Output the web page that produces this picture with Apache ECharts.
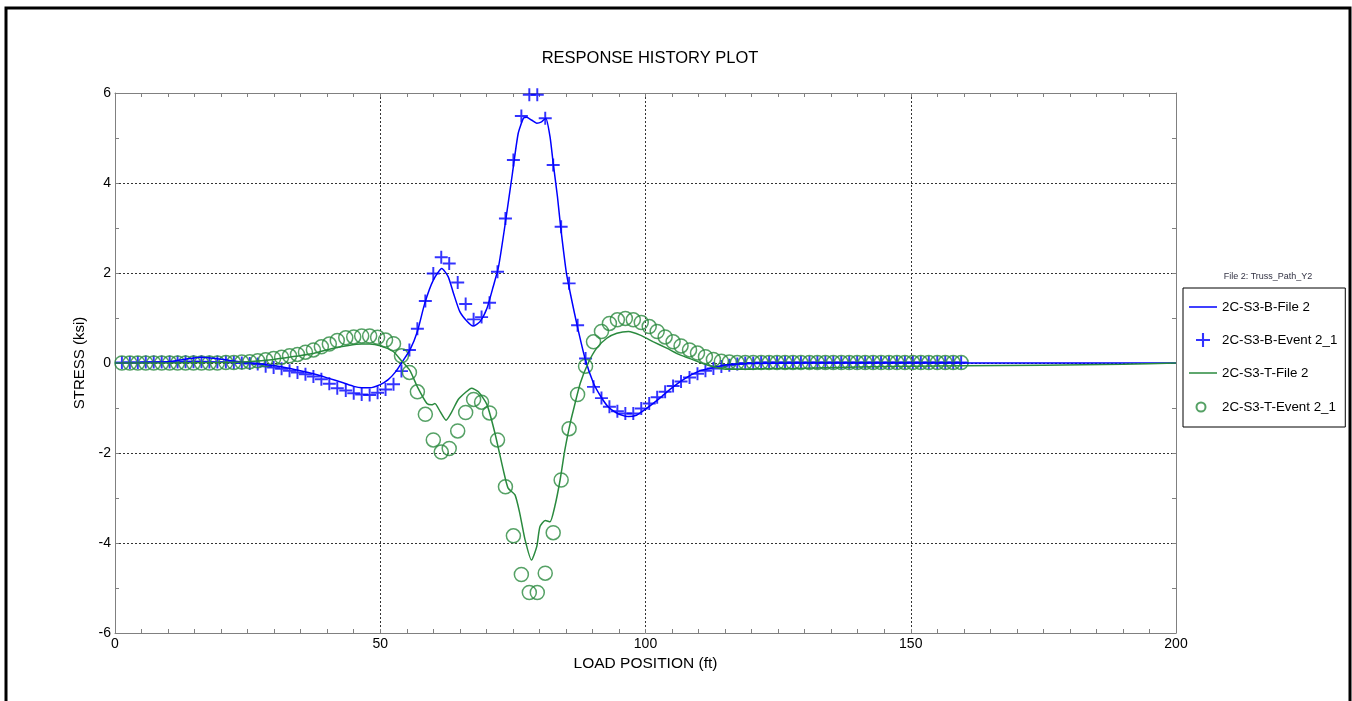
<!DOCTYPE html>
<html>
<head>
<meta charset="utf-8">
<script type="text/javascript" src="https://cdn.jsdelivr.net/npm/echarts@6/dist/echarts.min.js"></script>
<style>
    html, body { margin: 0; padding: 0; background: #fff; }
    #plot { width: 1352px; height: 701px; }
</style>
</head>
<body>
<div id="plot"></div>
<script>
    // load positions of the event readings (ft)
    var eventPos = [1.3, 2.8, 4.3, 5.8, 7.3, 8.8, 10.3, 11.8, 13.3, 14.8, 16.3, 17.8, 19.3, 20.9, 22.4, 23.9, 25.4, 26.9,
        28.4, 29.9, 31.4, 32.9, 34.4, 35.9, 37.4, 38.9, 40.4, 41.9, 43.5, 45.0, 46.5, 48.0, 49.5, 51.0, 52.5, 54.0,
        55.5, 57.0, 58.5, 60.0, 61.5, 63.0, 64.6, 66.1, 67.6, 69.1, 70.6, 72.1, 73.6, 75.1, 76.6, 78.1, 79.6, 81.1,
        82.6, 84.1, 85.6, 87.2, 88.7, 90.2, 91.7, 93.2, 94.7, 96.2, 97.7, 99.2, 100.7, 102.2, 103.7, 105.2, 106.7, 108.3,
        109.8, 111.3, 112.8, 114.3, 115.8, 117.3, 118.8, 120.3, 121.8, 123.3, 124.8, 126.3, 127.8, 129.3, 130.9, 132.4,
        133.9, 135.4, 136.9, 138.4, 139.9, 141.4, 142.9, 144.4, 145.9, 147.4, 148.9, 150.4, 151.9, 153.4, 155.0, 156.5,
        158.0, 159.5];
    // 2C-S3-B-Event 2_1 (ksi)
    var bEvent = [0.01, 0.01, 0.01, 0.02, 0.02, 0.02, 0.02, 0.02, 0.03, 0.03, 0.03, 0.02, 0.02, 0.02, 0.01, 0.0, -0.01, -0.02,
        -0.07, -0.10, -0.13, -0.17, -0.21, -0.25, -0.30, -0.36, -0.46, -0.56, -0.61, -0.67, -0.70, -0.71, -0.66, -0.59, -0.47, -0.18,
        0.29, 0.76, 1.38, 1.99, 2.35, 2.21, 1.79, 1.31, 0.97, 1.02, 1.34, 2.03, 3.21, 4.51, 5.49, 5.96, 5.96, 5.44,
        4.40, 3.03, 1.77, 0.84, 0.10, -0.53, -0.78, -0.97, -1.07, -1.12, -1.12, -1.01, -0.90, -0.76, -0.64, -0.51, -0.41, -0.32,
        -0.24, -0.17, -0.12, -0.08, -0.05, -0.02, 0.0, 0.0, 0.01, 0.01, 0.01, 0.01, 0.01, 0.01, 0.01, 0.01,
        0.01, 0.01, 0.01, 0.01, 0.01, 0.01, 0.01, 0.01, 0.01, 0.01, 0.01, 0.01, 0.01, 0.01, 0.01, 0.01,
        0.01, 0.01];
    // 2C-S3-T-Event 2_1 (ksi)
    var tEvent = [0.0, 0.0, 0.0, 0.0, 0.0, 0.0, 0.0, 0.0, 0.0, 0.0, 0.0, 0.0, 0.0, 0.01, 0.01, 0.02, 0.03, 0.05,
        0.07, 0.10, 0.13, 0.16, 0.19, 0.24, 0.29, 0.36, 0.42, 0.50, 0.56, 0.58, 0.60, 0.60, 0.57, 0.51, 0.43, 0.16,
        -0.21, -0.64, -1.14, -1.71, -1.98, -1.90, -1.51, -1.10, -0.81, -0.87, -1.11, -1.71, -2.75, -3.84, -4.70, -5.10, -5.10, -4.67,
        -3.77, -2.60, -1.46, -0.70, -0.07, 0.47, 0.70, 0.88, 0.96, 0.99, 0.96, 0.90, 0.81, 0.70, 0.58, 0.47, 0.38, 0.29,
        0.22, 0.14, 0.08, 0.04, 0.02, 0.01, 0.01, 0.01, 0.01, 0.01, 0.01, 0.01, 0.01, 0.01, 0.01, 0.01,
        0.01, 0.01, 0.01, 0.01, 0.01, 0.01, 0.01, 0.01, 0.01, 0.01, 0.01, 0.01, 0.01, 0.01, 0.01, 0.01,
        0.01, 0.01];

    // 2C-S3-B-File 2
    var bFileX = [0, 5, 10, 13, 16, 19, 22, 25, 28, 31, 34, 37, 40, 43, 45, 46.5, 48, 50, 51.5, 53,
        54, 55.6, 57, 58.4, 60, 61.6, 62.8, 63.8, 65, 66.4, 67.5, 68.8, 70.1, 71.3, 72.3, 73.5, 74.9, 76, 77, 77.6,
        78.5, 79.5, 80.4, 81.2, 82, 82.6, 83.4, 84, 85.1, 86, 87.1, 88.6, 90.2, 91.6, 93, 94.4, 95.8, 96.8, 98.3, 100.2,
        102.7, 105.2, 107.8, 110.3, 112.8, 115.3, 117.8, 120, 130, 150, 170, 200];
    var bFileY = [0, 0.01, 0.03, 0.08, 0.13, 0.10, 0.05, 0.01, -0.03, -0.08, -0.15, -0.23, -0.33, -0.44, -0.52, -0.55, -0.55, -0.48, -0.37, -0.18,
        0.0, 0.29, 0.70, 1.33, 1.84, 2.10, 1.92, 1.55, 1.14, 0.92, 0.82, 0.92, 1.21, 1.70, 2.14, 3.05, 4.20, 5.10, 5.44, 5.46,
        5.40, 5.33, 5.36, 5.44, 5.03, 4.44, 3.70, 3.03, 1.99, 1.45, 0.84, 0.10, -0.45, -0.75, -0.98, -1.10, -1.17, -1.19, -1.16, -1.01,
        -0.78, -0.53, -0.32, -0.17, -0.10, -0.04, -0.02, -0.01, 0.0, 0.0, 0.0, 0.0];
    // 2C-S3-T-File 2
    var tFileX = [0, 10, 20, 25, 30, 34, 37.4, 41.2, 44, 46.5, 48, 50, 52.5, 54, 55.6, 57, 58.8, 59.7, 60.3, 61.3,
        62.4, 63.5, 64.7, 66, 67.2, 68.5, 70.1, 71.6, 73.2, 74.1, 75.4, 76.3, 77.3, 78.5, 79.5, 80.1, 81.1, 82, 82.9, 83.9,
        84.8, 85.8, 86.4, 87.7, 89.2, 90.8, 92.7, 94.6, 96.8, 99, 101.5, 104, 106.5, 109, 111.5, 114, 116.5, 119, 121.6, 128,
        140, 150, 160, 175, 190, 200];
    var tFileY = [0, 0, 0.01, 0.03, 0.08, 0.15, 0.21, 0.33, 0.39, 0.42, 0.42, 0.38, 0.25, 0.05, -0.17, -0.53, -0.90, -0.93, -0.90, -1.08,
        -1.27, -1.08, -0.81, -0.66, -0.56, -0.64, -0.92, -1.55, -2.38, -2.78, -2.93, -3.34, -3.93, -4.38, -4.08, -3.64, -3.50, -3.53, -3.19, -2.60,
        -1.93, -1.34, -1.05, -0.45, 0.0, 0.33, 0.55, 0.66, 0.70, 0.62, 0.47, 0.33, 0.18, 0.07, -0.04, -0.12, -0.14, -0.14, -0.13, -0.12,
        -0.09, -0.07, -0.06, -0.05, -0.03, 0.0];

    var xTicks = [0, 50, 100, 150, 200];
    var yTicks = [-6, -4, -2, 0, 2, 4, 6];

    function pairs(xs, ys) {
        var out = [];
        for (var i = 0; i < xs.length; i++) {
            out.push([xs[i], ys[i]]);
        }
        return out;
    }

    var blue = '#0000ff';
    var green = '#2a8a3e';
    var font = 'Arial, "Liberation Sans", sans-serif';
    var plusPath = 'path://M4.25,0h1.5v4.25h4.25v1.5h-4.25v4.25h-1.5v-4.25h-4.25v-1.5h4.25z';
    // legend icons, padded out to the 28x14 icon box with bare moveTo points
    var lineIcon = 'path://M0,0M28,14M0,6.25h28v1.5h-28z';
    var ringIcon = 'path://M0,0M28,14M16.5,7A4.5,4.5,0,1,1,7.5,7A4.5,4.5,0,1,1,16.5,7z';

    var tickGray = '#808080';
    function xAxisBase(pos) {
        return {
            type: 'value',
            position: pos,
            min: xTicks[0],
            max: xTicks[xTicks.length - 1],
            interval: 50,
            axisLine: { show: true, onZero: false, lineStyle: { color: tickGray, width: 1 } },
            axisTick: { show: true, inside: true, length: 4, lineStyle: { color: tickGray } },
            minorTick: { show: true, splitNumber: 10, length: 4, lineStyle: { color: tickGray } }
        };
    }
    function yAxisBase(pos) {
        return {
            type: 'value',
            position: pos,
            min: yTicks[0],
            max: yTicks[yTicks.length - 1],
            interval: 2,
            axisLine: { show: true, onZero: false, lineStyle: { color: tickGray, width: 1 } },
            axisTick: { show: true, inside: true, length: 4, lineStyle: { color: tickGray } },
            minorTick: { show: true, splitNumber: 2, length: 4, lineStyle: { color: tickGray } }
        };
    }

    var gridLine = { show: true, lineStyle: { color: '#333', type: [2, 2], width: 1 } };

    var myChart = echarts.init(document.getElementById('plot'));
    var option = {
        backgroundColor: '#fff',
        animation: false,
        title: [{
            text: 'RESPONSE HISTORY PLOT',
            left: 645,
            top: 45,
            textAlign: 'center',
            textStyle: { fontFamily: font, fontSize: 16.5, fontWeight: 'normal', color: '#000' }
        }, {
            text: 'File 2: Truss_Path_Y2',
            left: 1263,
            top: 267,
            textAlign: 'center',
            textStyle: { fontFamily: font, fontSize: 9, fontWeight: 'normal', color: '#333344' }
        }],
        graphic: [{
            type: 'rect',
            shape: { x: 6, y: 8, width: 1344, height: 720 },
            style: { fill: null, stroke: '#000', lineWidth: 3 },
            silent: true
        }],
        legend: {
            orient: 'vertical',
            left: 1183,
            top: 288,
            padding: [12, 8, 12, 5],
            itemGap: 19,
            itemWidth: 28,
            itemHeight: 14,
            borderColor: '#000',
            borderWidth: 1,
            textStyle: { fontFamily: font, fontSize: 13.3, color: '#000' },
            data: [
                { name: '2C-S3-B-File 2', icon: lineIcon },
                { name: '2C-S3-B-Event 2_1' },
                { name: '2C-S3-T-File 2', icon: lineIcon },
                { name: '2C-S3-T-Event 2_1', icon: ringIcon }
            ]
        },
        grid: { left: 115, top: 93, right: 176, bottom: 68 },
        xAxis: [Object.assign(xAxisBase('bottom'), {
            name: 'LOAD POSITION (ft)',
            nameLocation: 'middle',
            nameGap: 17,
            nameTextStyle: { fontFamily: font, fontSize: 15.5, color: '#000' },
            axisLabel: { fontFamily: font, fontSize: 14, color: '#000', margin: 4 },
            splitLine: gridLine
        }), Object.assign(xAxisBase('top'), {
            axisLabel: { show: false },
            splitLine: { show: false }
        })],
        yAxis: [Object.assign(yAxisBase('left'), {
            name: 'STRESS (ksi)',
            nameLocation: 'middle',
            nameGap: 21,
            nameTextStyle: { fontFamily: font, fontSize: 15, color: '#000' },
            axisLabel: { fontFamily: font, fontSize: 14, color: '#000', margin: 4 },
            splitLine: gridLine
        }), Object.assign(yAxisBase('right'), {
            axisLabel: { show: false },
            splitLine: { show: false }
        })],
        series: [{
            name: '2C-S3-B-File 2',
            type: 'line',
            data: pairs(bFileX, bFileY),
            smooth: 0.2,
            symbol: 'none',
            lineStyle: { color: blue, width: 1.5 },
            itemStyle: { color: blue }
        }, {
            name: '2C-S3-B-Event 2_1',
            type: 'scatter',
            data: pairs(eventPos, bEvent),
            symbol: plusPath,
            symbolSize: 13,
            symbolKeepAspect: true,
            clip: false,
            itemStyle: { color: blue }
        }, {
            name: '2C-S3-T-File 2',
            type: 'line',
            data: pairs(tFileX, tFileY),
            smooth: 0.2,
            symbol: 'none',
            lineStyle: { color: green, width: 1.5 },
            itemStyle: { color: green }
        }, {
            name: '2C-S3-T-Event 2_1',
            type: 'scatter',
            data: pairs(eventPos, tEvent),
            symbol: 'circle',
            symbolSize: 14,
            clip: false,
            itemStyle: { color: 'rgba(0,0,0,0)', borderColor: green, borderWidth: 1.5 }
        }]
    };
    myChart.setOption(option);
</script>
</body>
</html>
